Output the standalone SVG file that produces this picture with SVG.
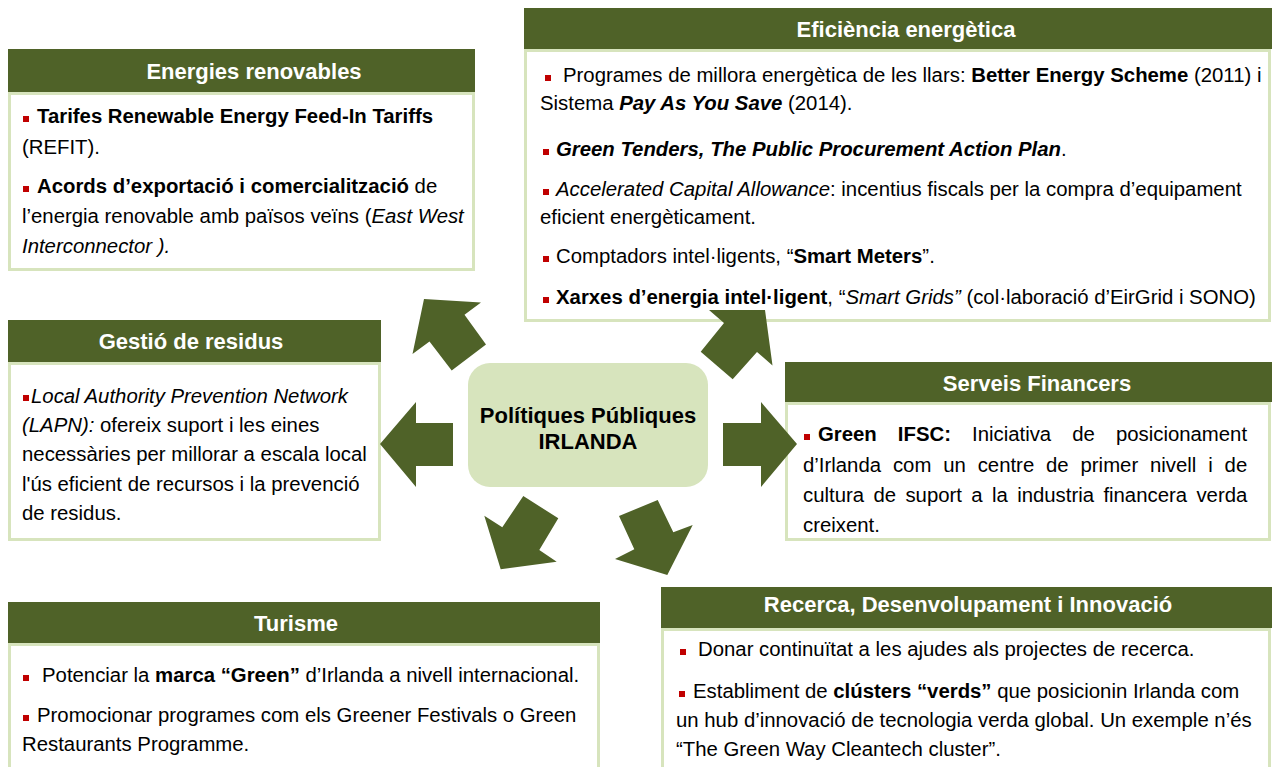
<svg xmlns="http://www.w3.org/2000/svg" width="1272" height="767" viewBox="0 0 1272 767">
<style>
.hdr{fill:#4f6228}
.bd{fill:#fff;stroke:#d7e4bd;stroke-width:3}
.ht{fill:#fff;font-family:"Liberation Sans",Arial,sans-serif;font-size:22px;font-weight:bold;text-anchor:middle}
.t{fill:#000;font-family:"Liberation Sans",Arial,sans-serif;font-size:20.35px}
.b{font-weight:bold}
.i{font-style:italic}
.bul{fill:#c00000}
.arr{fill:#4f6228}
.ctr{fill:#d7e4bd}
.ct{fill:#000;font-family:"Liberation Sans",Arial,sans-serif;font-size:22px;font-weight:bold;text-anchor:middle}
</style>
<rect width="1272" height="767" fill="#fff"/>

<g id="energies-renovables">
<rect class="bd" x="9.5" y="93.5" width="464" height="176"/>
<rect class="hdr" x="8" y="49" width="467" height="43"/>
<text class="ht" x="254" y="79">Energies renovables</text>
<rect class="bul" x="23" y="116" width="6" height="6"/>
<text class="t b" x="37" y="123">Tarifes Renewable Energy Feed-In Tariffs</text>
<text class="t" x="22" y="154">(REFIT).</text>
<rect class="bul" x="23" y="186" width="6" height="6"/>
<text class="t" x="37" y="193"><tspan class="b">Acords d’exportació i comercialització</tspan> de</text>
<text class="t" x="22" y="223">l’energia renovable amb països veïns (<tspan class="i">East West</tspan></text>
<text class="t i" x="22" y="253">Interconnector ).</text>
</g>

<g id="eficiencia-energetica">
<rect class="bd" x="525.5" y="50.5" width="744" height="270"/>
<rect class="hdr" x="524" y="8" width="748" height="41"/>
<text class="ht" x="906" y="37">Eficiència energètica</text>
<rect class="bul" x="545" y="75" width="6" height="6"/>
<text class="t" x="563" y="82">Programes de millora energètica de les llars: <tspan class="b">Better Energy Scheme</tspan> (2011) i</text>
<text class="t" x="540" y="110">Sistema <tspan class="b i">Pay As You Save</tspan> (2014).</text>
<rect class="bul" x="543" y="149" width="6" height="6"/>
<text class="t" x="556" y="156"><tspan class="b i">Green Tenders, The Public Procurement Action Plan</tspan>.</text>
<rect class="bul" x="543" y="189" width="6" height="6"/>
<text class="t" x="556" y="196"><tspan class="i">Accelerated Capital Allowance</tspan>: incentius fiscals per la compra d’equipament</text>
<text class="t" x="540" y="224">eficient energèticament.</text>
<rect class="bul" x="543" y="256" width="6" height="6"/>
<text class="t" x="556" y="263">Comptadors intel·ligents, “<tspan class="b">Smart Meters</tspan>”.</text>
<rect class="bul" x="543" y="297" width="6" height="6"/>
<text class="t" x="556" y="304"><tspan class="b">Xarxes d’energia intel·ligent</tspan>, “<tspan class="i">Smart Grids”</tspan> (col·laboració d’EirGrid i SONO)</text>
</g>

<g id="gestio-residus">
<rect class="bd" x="9.5" y="363.5" width="370" height="176"/>
<rect class="hdr" x="8" y="320" width="373" height="42"/>
<text class="ht" x="191" y="349">Gestió de residus</text>
<rect class="bul" x="23" y="395" width="6" height="6"/>
<text class="t i" x="31" y="403">Local Authority Prevention Network</text>
<text class="t" x="22" y="432"><tspan class="i">(LAPN):</tspan> ofereix suport i les eines</text>
<text class="t" x="22" y="461">necessàries per millorar a escala local</text>
<text class="t" x="22" y="491">l'ús eficient de recursos i la prevenció</text>
<text class="t" x="22" y="520">de residus.</text>
</g>

<g id="serveis-financers">
<rect class="bd" x="786.5" y="403.5" width="483" height="136"/>
<rect class="hdr" x="785" y="362" width="487" height="40"/>
<text class="ht" x="1037" y="391">Serveis Financers</text>
<rect class="bul" x="804" y="434" width="6" height="6"/>
<text class="t" x="818" y="441" style="word-spacing:15.4px"><tspan class="b">Green IFSC:</tspan> Iniciativa de posicionament</text>
<text class="t" x="803" y="472" style="word-spacing:6.2px">d’Irlanda com un centre de primer nivell i de</text>
<text class="t" x="803" y="502" style="word-spacing:3.7px">cultura de suport a la industria financera verda</text>
<text class="t" x="803" y="532">creixent.</text>
</g>

<g id="turisme">
<rect class="bd" x="9.5" y="644.5" width="589" height="140"/>
<rect class="hdr" x="8" y="602" width="592" height="41"/>
<text class="ht" x="296" y="631">Turisme</text>
<rect class="bul" x="23" y="675" width="6" height="6"/>
<text class="t" x="42" y="682">Potenciar la <tspan class="b">marca “Green”</tspan> d’Irlanda a nivell internacional.</text>
<rect class="bul" x="23" y="715" width="6" height="6"/>
<text class="t" x="37" y="722">Promocionar programes com els Greener Festivals o Green</text>
<text class="t" x="22" y="751">Restaurants Programme.</text>
</g>

<g id="recerca">
<rect class="bd" x="662.5" y="629.5" width="607" height="150"/>
<rect class="hdr" x="661" y="587" width="611" height="41"/>
<text class="ht" x="968" y="612">Recerca, Desenvolupament i Innovació</text>
<rect class="bul" x="680" y="649" width="6" height="6"/>
<text class="t" x="698" y="656">Donar continuïtat a les ajudes als projectes de recerca.</text>
<rect class="bul" x="679" y="691" width="6" height="6"/>
<text class="t" x="693" y="698">Establiment de <tspan class="b">clústers “verds”</tspan> que posicionin Irlanda com</text>
<text class="t" x="676" y="727">un hub d’innovació de tecnologia verda global. Un exemple n’és</text>
<text class="t" x="676" y="756">“The Green Way Cleantech cluster”.</text>
</g>

<g id="center">
<rect class="ctr" x="468" y="363" width="240" height="124" rx="22" ry="22"/>
<text class="ct" x="588" y="423">Polítiques Públiques</text>
<text class="ct" x="588" y="449">IRLANDA</text>
</g>

<g id="connectors">
<polygon class="arr" points="380,444 416,402 416,423 453,423 453,466 416,466 416,487"/>
<polygon class="arr" points="723,423 761,423 761,402 797,444 761,487 761,466 723,466"/>
<polygon class="arr" points="424,299 481,302.5 464.5,314.8 486,344.5 451.7,370.5 429.5,341.5 412.5,354"/>
<polygon class="arr" points="709,310 765,310 772.5,365.5 757,352 732.7,379.3 700.7,351.7 724,323"/>
<polygon class="arr" points="523.3,496 558.3,518.3 539.3,550 556.7,561.7 500.7,569.3 484.3,515.7 502.3,527.3"/>
<polygon class="arr" points="619,516 657.7,500 673.3,532.3 692.7,525 667.3,575 615,559 634.3,549.3"/>
</g>
</svg>
